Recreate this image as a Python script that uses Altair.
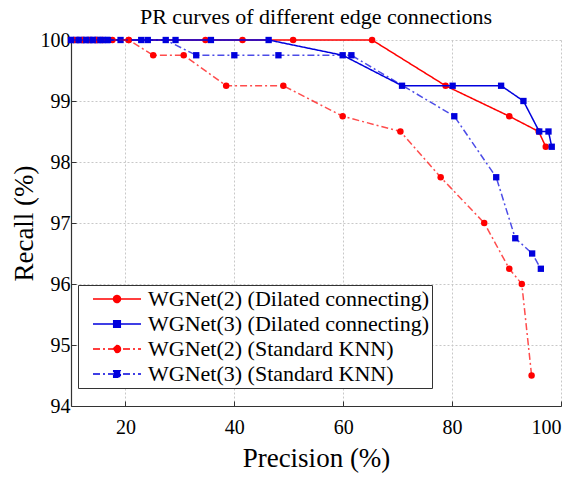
import altair as alt
import pandas as pd

# Series names, colours and line styles
series_names = [
    "WGNet(2) (Dilated connecting)",
    "WGNet(3) (Dilated connecting)",
    "WGNet(2) (Standard KNN)",
    "WGNet(3) (Standard KNN)",
]
line_colors = ["#ff0000", "#0000dd", "#ff0000", "#0000dd"]
line_dashes = [[1, 0], [1, 0], [7, 3, 2, 3], [7, 3, 2, 3]]
line_opacity = [1.0, 1.0, 0.7, 0.7]
marker_shapes = ["circle", "square", "circle", "square"]

# WGNet(2) (Dilated connecting)
red_dil_precision = [11.2, 12.4, 13.6, 14.4, 15.8, 17.6, 20.6, 34.7, 41.5, 50.8, 65.3, 78.8, 90.5, 95.9, 97.2]
red_dil_recall = [100, 100, 100, 100, 100, 100, 100, 100, 100, 100, 100, 99.25, 98.75, 98.5, 98.25]

# WGNet(3) (Dilated connecting)
blue_dil_precision = [10.0, 11.0, 11.8, 12.6, 13.4, 14.2, 15.0, 15.8, 16.6, 19.1, 24.1, 29.2, 35.7, 46.3,
                      59.9, 70.8, 80.1, 89.0, 93.1, 96.0, 97.7, 98.3]
blue_dil_recall = [100, 100, 100, 100, 100, 100, 100, 100, 100, 100, 100, 100, 100, 100,
                   99.75, 99.25, 99.25, 99.25, 99.0, 98.5, 98.5, 98.25]

# WGNet(2) (Standard KNN)
red_knn_precision = [10.6, 12.0, 13.2, 14.8, 20.6, 25.1, 30.7, 38.5, 49.0, 59.9, 70.5, 77.9, 85.9, 90.5, 92.8, 94.6]
red_knn_recall = [100, 100, 100, 100, 100, 99.75, 99.75, 99.25, 99.25, 98.75, 98.5, 97.75, 97.0, 96.25, 96.0, 94.5]

# WGNet(3) (Standard KNN)
blue_knn_precision = [10.0, 11.4, 12.8, 14.0, 15.4, 16.8, 22.9, 27.4, 33.0, 40.0, 48.1, 61.5, 80.4, 88.1, 91.6, 94.7, 96.3]
blue_knn_recall = [100, 100, 100, 100, 100, 100, 100, 100, 99.75, 99.75, 99.75, 99.75, 98.75, 97.75, 96.75, 96.5, 96.25]

x_ticks = [20, 40, 60, 80, 100]
y_ticks = [94, 95, 96, 97, 98, 99, 100]

all_precision = [red_dil_precision, blue_dil_precision, red_knn_precision, blue_knn_precision]
all_recall = [red_dil_recall, blue_dil_recall, red_knn_recall, blue_knn_recall]

frames = []
for name, xs, ys in zip(series_names, all_precision, all_recall):
    frames.append(pd.DataFrame({"series": name, "precision": xs, "recall": ys, "idx": list(range(len(xs)))}))
df = pd.concat(frames, ignore_index=True)

# Legend symbols: a short line segment with the marker in its middle
circle_line = "M-2.4,0H2.4M0.35,0A0.35,0.35,0,1,1,-0.35,0A0.35,0.35,0,1,1,0.35,0Z"
square_line = "M-2.4,0H2.4M-0.33,-0.33H0.33V0.33H-0.33Z"
legend_symbols = [circle_line, square_line, circle_line, square_line]

color_scale = alt.Scale(domain=series_names, range=line_colors)
dash_scale = alt.Scale(domain=series_names, range=line_dashes)
shape_scale = alt.Scale(domain=series_names, range=legend_symbols)

serif = "Liberation Serif"

x_enc = alt.X(
    "precision:Q",
    scale=alt.Scale(domain=[10, 100], nice=False, zero=False),
    axis=alt.Axis(values=x_ticks, title="Precision (%)", labelPadding=16, titlePadding=8),
)
y_enc = alt.Y(
    "recall:Q",
    scale=alt.Scale(domain=[94, 100], nice=False, zero=False),
    axis=alt.Axis(values=y_ticks, title="Recall (%)", labelPadding=6, titlePadding=2),
)

layers = []
for name, color, dash, shape, op in zip(series_names, line_colors, line_dashes, marker_shapes, line_opacity):
    base = alt.Chart(df).transform_filter(alt.datum.series == name)
    line = base.mark_line(strokeWidth=1.5, opacity=op).encode(
        x=x_enc,
        y=y_enc,
        order="idx:Q",
        stroke=alt.value(color),
        strokeDash=alt.value(dash),
    )
    pts = base.mark_point(filled=True, shape=shape, size=42 if shape == "circle" else 40, opacity=1).encode(
        x=x_enc,
        y=y_enc,
        fill=alt.value(color),
    )
    layers += [line, pts]

legend_def = alt.Legend(
    title=None,
    orient="none",
    legendX=7,
    legendY=245,
    padding=3,
    symbolSize=400,
    symbolStrokeWidth=1.5,
    symbolOffset=25,
    labelOffset=20,
    labelFont=serif,
    labelFontSize=22,
    labelColor="black",
    labelLimit=400,
    rowPadding=3,
    strokeColor="#333333",
    fillColor="white",
)

legend_layer = (
    alt.Chart(pd.DataFrame({"series": series_names}))
    .transform_filter("false")
    .mark_point(filled=True, size=400, strokeWidth=1.5, opacity=1)
    .encode(
        shape=alt.Shape("series:N", scale=shape_scale, legend=legend_def),
        fill=alt.Fill("series:N", scale=color_scale, legend=legend_def),
        stroke=alt.Stroke("series:N", scale=color_scale, legend=legend_def),
        strokeDash=alt.StrokeDash("series:N", scale=dash_scale, legend=legend_def),
    )
)

chart = (
    alt.layer(*layers, legend_layer)
    .properties(
        width=490,
        height=366,
        padding={"left": 71, "top": 40, "right": 17, "bottom": 71},
        autosize=alt.AutoSizeParams(type="none"),
        title=alt.TitleParams(
            "PR curves of different edge connections",
            font=serif,
            fontSize=22,
            fontWeight="normal",
            color="black",
            anchor="middle",
            offset=1,
        ),
    )
    .configure_view(stroke=None)
    .configure_axis(
        labelFont=serif,
        labelFontSize=20,
        labelColor="black",
        titleFont=serif,
        titleFontSize=27,
        titleFontWeight="normal",
        titleColor="black",
        domainColor="#333333",
        domainWidth=1.2,
        tickColor="#333333",
        tickSize={"expr": "-5"},
        grid=True,
        gridColor="#c8c8c8",
        gridDash=[2, 2],
        gridWidth=1,
    )
)

chart.save("out.html", embed_options={"renderer": "svg", "actions": False})
